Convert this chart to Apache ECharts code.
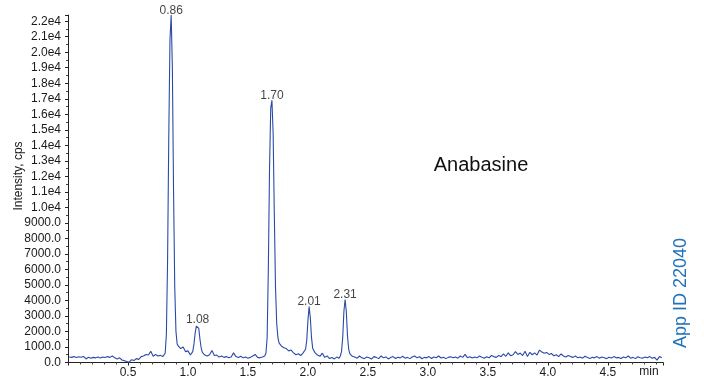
<!DOCTYPE html>
<html>
<head>
<meta charset="utf-8">
<script src="https://cdn.jsdelivr.net/npm/echarts@6/dist/echarts.min.js"></script>
<style>
  html, body { margin: 0; padding: 0; background: #fff; }
  #chart { width: 704px; height: 381px; }
</style>
</head>
<body>
<div id="chart"></div>
<script>
// retention time (min) and intensity (cps)
const time = [
  0.01,0.03,0.05,0.07,0.09,0.11,0.13,0.15,0.17,0.19,0.21,0.23,0.25,0.27,0.29,0.31,0.33,0.35,0.37,0.39,
  0.41,0.43,0.45,0.47,0.49,0.51,0.53,0.55,0.57,0.59,0.61,0.63,0.65,0.67,0.69,0.71,0.73,0.75,0.77,0.79,
  0.80,0.81,0.82,0.83,0.84,0.85,0.86,0.87,0.88,0.89,0.90,0.91,0.92,0.94,0.96,0.98,1.00,1.02,1.04,1.05,
  1.06,1.07,1.08,1.09,1.10,1.11,1.12,1.14,
  1.16,1.18,1.20,1.22,1.24,1.26,1.28,1.30,1.32,1.34,1.36,1.38,1.40,1.42,1.44,1.46,1.48,1.50,1.52,1.54,
  1.56,1.58,1.60,1.62,1.64,
  1.65,1.66,1.67,1.68,1.69,1.70,1.71,1.72,1.73,1.74,1.75,1.76,1.78,1.80,1.82,1.84,1.86,1.88,1.90,1.92,
  1.94,1.96,1.98,1.99,2.00,2.01,2.02,2.03,2.04,2.06,2.08,
  2.10,2.12,2.14,2.16,2.18,2.20,2.22,2.24,2.26,2.27,2.28,2.29,2.30,2.31,2.32,2.33,2.34,2.35,2.37,
  2.39,2.41,2.43,2.45,2.47,2.49,2.51,2.53,2.55,2.57,
  2.59,2.61,2.63,2.65,2.67,2.69,2.71,2.73,2.75,2.77,
  2.79,2.81,2.83,2.85,2.87,2.89,2.91,2.93,2.95,2.97,
  2.99,3.01,3.03,3.05,3.07,3.09,3.11,3.13,3.15,3.17,
  3.19,3.21,3.23,3.25,3.27,3.29,3.31,3.33,3.35,3.37,
  3.39,3.41,3.43,3.45,3.47,3.49,3.51,3.53,3.55,3.57,
  3.59,3.61,3.63,3.65,3.67,3.69,3.71,3.73,3.75,3.77,
  3.79,3.81,3.83,3.85,3.87,3.89,3.91,3.93,3.95,3.97,
  3.99,4.01,4.03,4.05,4.07,4.09,4.11,4.13,4.15,4.17,
  4.19,4.21,4.23,4.25,4.27,4.29,4.31,4.33,4.35,4.37,
  4.39,4.41,4.43,4.45,4.47,4.49,4.51,4.53,4.55,4.57,
  4.59,4.61,4.63,4.65,4.67,4.69,4.71,4.73,4.75,4.77,
  4.79,4.81,4.83,4.85,4.87,4.89,4.91,4.93,4.95
];
const cps = [
  360,330,380,320,370,340,390,230,340,280,330,300,350,290,360,320,380,330,420,300,
  220,300,160,120,60,20,180,130,250,200,380,420,520,480,720,400,520,420,460,380,
  420,600,1800,6500,14500,20800,22400,19000,11000,4800,2000,1200,1050,900,1000,700,750,480,700,1200,
  1900,2350,2450,2200,1500,950,650,480,
  420,500,780,450,480,350,420,330,380,300,360,620,380,320,400,300,350,280,330,420,
  520,330,300,350,420,
  600,1600,6000,12500,16400,16900,14800,9500,4800,2500,1600,1250,1050,950,900,750,800,620,500,560,
  450,620,850,1400,2700,3600,2900,1600,900,620,480,
  400,600,330,420,250,320,230,350,280,420,700,1600,3300,4060,3300,1700,850,550,400,
  350,280,420,300,250,350,300,220,380,330,
  250,420,300,360,230,320,380,260,340,300,
  400,280,330,250,350,420,300,370,240,330,
  300,380,260,350,310,420,290,340,250,330,
  370,300,350,280,420,330,520,310,370,290,
  350,300,420,340,280,370,300,450,380,330,
  450,380,560,400,620,430,500,700,520,610,
  450,720,380,660,500,620,480,800,680,600,
  650,520,580,430,500,380,550,420,360,450,
  380,330,420,300,360,280,400,320,250,340,
  300,380,270,350,310,250,340,290,380,300,
  330,260,350,300,420,280,330,250,370,310,
  280,350,300,380,270,330,150,380,300
];
// labelled peak apexes
const peakTimes = [0.86, 1.08, 1.70, 2.01, 2.31];

const yTicks = { min: 0, max: 22400, interval: 1000 };
const xTicks = { min: 0, max: 4.96, interval: 0.5 };

const traceColor = '#2a4aa6';
const font = 'Liberation Sans, Arial, Helvetica, sans-serif';

let trace = time.map((t, i) => [t, cps[i]]);
let peaks = peakTimes.map(t => [t, cps[time.indexOf(t)]]);

let myChart = echarts.init(document.getElementById('chart'), null, { renderer: 'canvas' });
myChart.setOption({
  animation: false,
  textStyle: { fontFamily: font },
  grid: { left: 68, right: 41, top: 15, bottom: 18.5 },
  xAxis: {
    type: 'value',
    min: xTicks.min,
    max: xTicks.max,
    interval: xTicks.interval,
    axisLine: { lineStyle: { color: '#222', width: 1 } },
    axisTick: { show: true, length: 3, lineStyle: { color: '#222' } },
    minorTick: { show: true, splitNumber: 5, length: 2, lineStyle: { color: '#444' } },
    splitLine: { show: false },
    axisLabel: {
      color: '#1a1a1a', fontSize: 12, margin: 4,
      showMinLabel: false, showMaxLabel: false,
      formatter: v => v.toFixed(1)
    }
  },
  yAxis: {
    type: 'value',
    min: yTicks.min,
    max: yTicks.max,
    interval: yTicks.interval,
    axisLine: { show: true, lineStyle: { color: '#222', width: 1 } },
    axisTick: { show: true, length: 3, lineStyle: { color: '#222' } },
    minorTick: { show: true, splitNumber: 2, length: 2, lineStyle: { color: '#444' } },
    splitLine: { show: false },
    axisLabel: {
      color: '#1a1a1a', fontSize: 12, margin: 7,
      showMaxLabel: false,
      formatter: v => v >= 10000 ? (v / 10000).toFixed(1) + 'e4' : v.toFixed(1)
    }
  },
  series: [
    {
      type: 'line',
      data: trace,
      symbol: 'none',
      lineStyle: { color: traceColor, width: 1.1 },
      z: 2
    },
    {
      type: 'scatter',
      data: peaks,
      symbolSize: 1,
      itemStyle: { color: 'rgba(0,0,0,0)' },
      label: {
        show: true,
        position: 'top',
        distance: -2,
        color: '#111',
        fontSize: 12,
        formatter: p => p.value[0].toFixed(2)
      },
      z: 3
    }
  ],
  graphic: [
    {
      type: 'text', x: 19, y: 176, rotation: Math.PI / 2,
      style: { text: 'Intensity, cps', font: '12px ' + font, fill: '#1a1a1a', align: 'center', verticalAlign: 'middle' }
    },
    {
      type: 'text', x: 649, y: 372,
      style: { text: 'min', font: '12px ' + font, fill: '#1a1a1a', align: 'center', verticalAlign: 'middle' }
    },
    {
      type: 'text', x: 481, y: 165,
      style: { text: 'Anabasine', font: '20px ' + font, fill: '#111', align: 'center', verticalAlign: 'middle' }
    },
    {
      type: 'text', x: 681, y: 293, rotation: Math.PI / 2,
      style: { text: 'App ID 22040', font: '18px ' + font, fill: '#2272b9', align: 'center', verticalAlign: 'middle' }
    }
  ]
});
</script>
</body>
</html>
